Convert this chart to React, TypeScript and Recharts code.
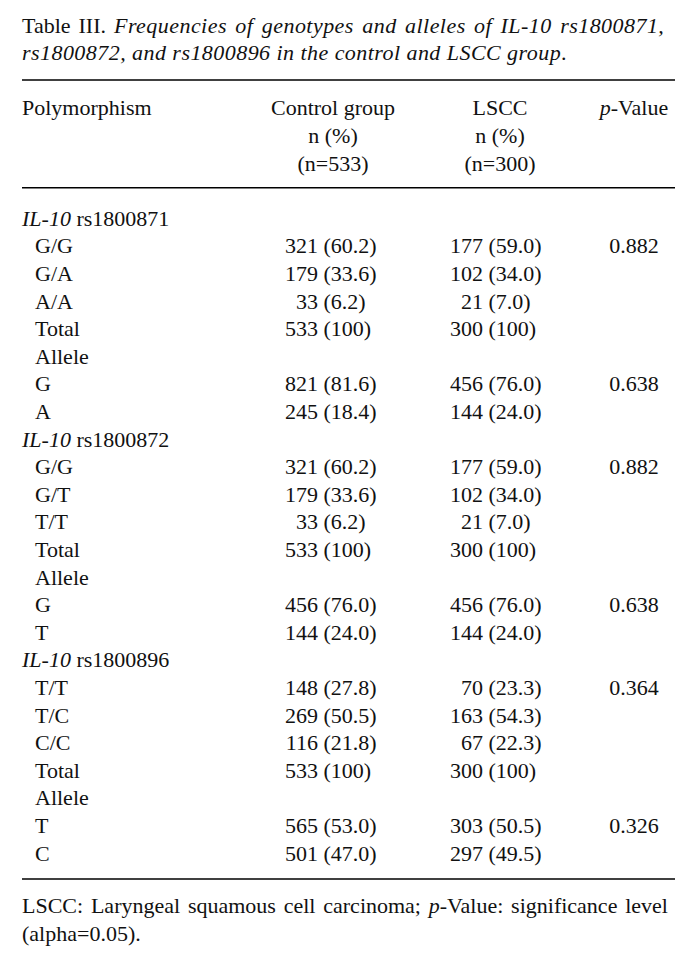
import React from "react";
import { ScatterChart, Scatter, XAxis, YAxis, ReferenceLine } from "recharts";

// ---------- data ----------
const snps = ["rs1800871", "rs1800872", "rs1800896"];
const genotypeLabels = [
  ["G/G", "G/A", "A/A"],
  ["G/G", "G/T", "T/T"],
  ["T/T", "T/C", "C/C"],
];
const alleleLabels = [
  ["G", "A"],
  ["G", "T"],
  ["T", "C"],
];
// order: 3 genotypes, Total, 2 alleles
const controlCounts = [
  [321, 179, 33, 533, 821, 245],
  [321, 179, 33, 533, 456, 144],
  [148, 269, 116, 533, 565, 501],
];
const controlPct = [
  [60.2, 33.6, 6.2, 100, 81.6, 18.4],
  [60.2, 33.6, 6.2, 100, 76.0, 24.0],
  [27.8, 50.5, 21.8, 100, 53.0, 47.0],
];
const lsccCounts = [
  [177, 102, 21, 300, 456, 144],
  [177, 102, 21, 300, 456, 144],
  [70, 163, 67, 300, 303, 297],
];
const lsccPct = [
  [59.0, 34.0, 7.0, 100, 76.0, 24.0],
  [59.0, 34.0, 7.0, 100, 76.0, 24.0],
  [23.3, 54.3, 22.3, 100, 50.5, 49.5],
];
const genotypePValues = ["0.882", "0.882", "0.364"];
const allelePValues = ["0.638", "0.638", "0.326"];

const controlHeader = ["Control group", "n (%)", "(n=533)"];
const lsccHeader = ["LSCC", "n (%)", "(n=300)"];
type Seg = [string, boolean];
const titleLines: Seg[][] = [
  [["Table III. ", false], ["Frequencies of genotypes and alleles of IL-10 rs1800871,", true]],
  [["rs1800872, and rs1800896 in the control and LSCC group", true], [".", false]],
];
const footnoteLines: Seg[][] = [
  [["LSCC: Laryngeal squamous cell carcinoma; ", false], ["p", true], ["-Value: significance level", false]],
  [["(alpha=0.05).", false]],
];

// ---------- layout (component-level constants) ----------
const W = 697;
const H = 966;
const FONT = "'Liberation Serif', 'Times New Roman', serif";
const FS = 22;
const INK = "#111";
const X_LABEL = 0;
const X_INDENT = 13;
const X_CTRL_PAREN = 301.5;
const X_LSCC_PAREN = 466.5;
const X_CTRL_HEAD = 311;
const X_LSCC_HEAD = 478;
const X_P = 612;

const fmtPct = (v: number) => (v === 100 ? "100" : v.toFixed(1));

type Row = {
  y: number;
  segs: Seg[];
  indent: boolean;
  ctrl?: [number, number];
  lscc?: [number, number];
  p?: string;
};

const rows: Row[] = [];
snps.forEach((snp, g) => {
  const base = g * 8;
  rows.push({ y: base, segs: [["IL-10", true], [" " + snp, false]], indent: false });
  genotypeLabels[g].forEach((lab, j) => {
    rows.push({
      y: base + 1 + j,
      segs: [[lab, false]],
      indent: true,
      ctrl: [controlCounts[g][j], controlPct[g][j]],
      lscc: [lsccCounts[g][j], lsccPct[g][j]],
      p: j === 0 ? genotypePValues[g] : undefined,
    });
  });
  rows.push({
    y: base + 4,
    segs: [["Total", false]],
    indent: true,
    ctrl: [controlCounts[g][3], controlPct[g][3]],
    lscc: [lsccCounts[g][3], lsccPct[g][3]],
  });
  rows.push({ y: base + 5, segs: [["Allele", false]], indent: true });
  alleleLabels[g].forEach((lab, k) => {
    rows.push({
      y: base + 6 + k,
      segs: [[lab, false]],
      indent: true,
      ctrl: [controlCounts[g][4 + k], controlPct[g][4 + k]],
      lscc: [lsccCounts[g][4 + k], lsccPct[g][4 + k]],
      p: k === 0 ? allelePValues[g] : undefined,
    });
  });
});

type TextPoint = {
  x: number;
  y: number;
  segs: Seg[];
  anchor: "start" | "middle" | "end";
  wordSpacing?: number;
  italicSpacing?: number;
};

const labelData: TextPoint[] = rows.map((r) => ({
  x: r.indent ? X_INDENT : X_LABEL,
  y: r.y,
  segs: r.segs,
  anchor: "start",
}));

const ctrlData = rows
  .filter((r) => r.ctrl)
  .map((r) => ({ x: X_CTRL_PAREN, y: r.y, count: r.ctrl![0], pct: r.ctrl![1] }));
const lsccData = rows
  .filter((r) => r.lscc)
  .map((r) => ({ x: X_LSCC_PAREN, y: r.y, count: r.lscc![0], pct: r.lscc![1] }));
const pData: TextPoint[] = rows
  .filter((r) => r.p)
  .map((r) => ({ x: X_P, y: r.y, segs: [[r.p!, false]] as Seg[], anchor: "middle" }));

const headerData: TextPoint[] = [
  { x: X_LABEL, y: -4, segs: [["Polymorphism", false]], anchor: "start" },
  ...controlHeader.map((t, i) => ({ x: X_CTRL_HEAD, y: -4 + i, segs: [[t, false]] as Seg[], anchor: "middle" as const })),
  ...lsccHeader.map((t, i) => ({ x: X_LSCC_HEAD, y: -4 + i, segs: [[t, false]] as Seg[], anchor: "middle" as const })),
  { x: X_P, y: -4, segs: [["p", true], ["-Value", false]], anchor: "middle" },
];

const titleData: TextPoint[] = titleLines.map((segs, i) => ({
  x: X_LABEL,
  y: -7 + i,
  segs,
  anchor: "start",
  wordSpacing: i === 0 ? 2.5 : 0,
  italicSpacing: 0.45,
}));
const footData: TextPoint[] = footnoteLines.map((segs, i) => ({
  x: X_LABEL,
  y: 24.9 + i,
  segs,
  anchor: "start",
  wordSpacing: i === 0 ? 2.3 : 0,
}));

const TextShape = (props: any) => {
  const { cx, cy, payload } = props;
  return (
    <text
      x={cx}
      y={cy}
      dy="0.35em"
      textAnchor={payload.anchor}
      fontFamily={FONT}
      fontSize={FS}
      fill={INK}
      style={{ wordSpacing: payload.wordSpacing ? `${payload.wordSpacing}px` : undefined }}
    >
      {payload.segs.map((s: Seg, i: number) => (
        <tspan
          key={i}
          fontStyle={s[1] ? "italic" : "normal"}
          style={s[1] && payload.italicSpacing ? { letterSpacing: `${payload.italicSpacing}px` } : undefined}
        >
          {s[0]}
        </tspan>
      ))}
    </text>
  );
};

const ValueShape = (props: any) => {
  const { cx, cy, payload } = props;
  return (
    <g fontFamily={FONT} fontSize={FS} fill={INK}>
      <text x={cx - 5.5} y={cy} dy="0.35em" textAnchor="end">
        {String(payload.count)}
      </text>
      <text x={cx} y={cy} dy="0.35em" textAnchor="start">
        {"(" + fmtPct(payload.pct) + ")"}
      </text>
    </g>
  );
};

export default function App() {
  return (
    <div style={{ position: "absolute", left: 0, top: 0, width: W, height: H, background: "#fff" }}>
      <ScatterChart width={W} height={H} margin={{ top: 0, right: 22, bottom: 0, left: 22 }}>
        <XAxis type="number" dataKey="x" domain={[0, 653]} hide />
        <YAxis type="number" dataKey="y" domain={[-7.9, 27.1]} reversed hide />
        <ReferenceLine y={-5} stroke="#000" strokeWidth={1.6} />
        <ReferenceLine y={-1.1} stroke="#000" strokeWidth={1.6} />
        <ReferenceLine y={23.95} stroke="#000" strokeWidth={1.6} />
        <Scatter data={titleData} shape={TextShape} isAnimationActive={false} />
        <Scatter data={headerData} shape={TextShape} isAnimationActive={false} />
        <Scatter data={labelData} shape={TextShape} isAnimationActive={false} />
        <Scatter data={ctrlData} shape={ValueShape} isAnimationActive={false} />
        <Scatter data={lsccData} shape={ValueShape} isAnimationActive={false} />
        <Scatter data={pData} shape={TextShape} isAnimationActive={false} />
        <Scatter data={footData} shape={TextShape} isAnimationActive={false} />
      </ScatterChart>
    </div>
  );
}
